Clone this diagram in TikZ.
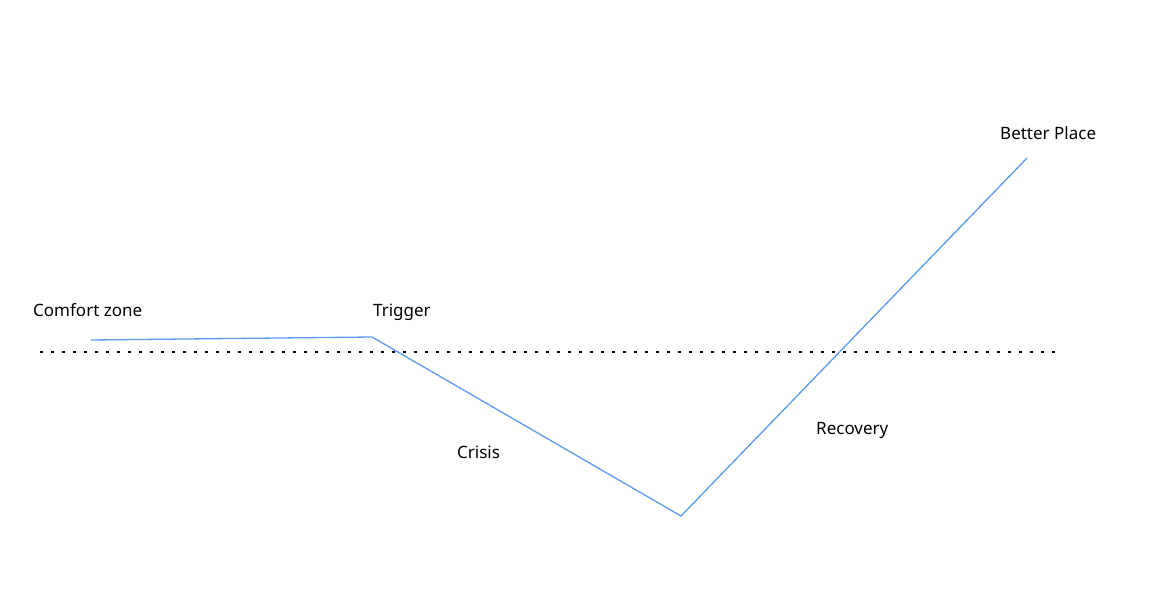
\documentclass[tikz,border=0pt]{standalone}
\usepackage{fontspec}
\setmainfont{Noto Sans}
\usetikzlibrary{positioning}
\definecolor{curveBlue}{HTML}{5B9BEF}

\begin{document}
\begin{tikzpicture}[x=1pt, y=-1pt,
    stagelabel/.style={anchor=base west, inner sep=0pt, font=\fontsize{17}{20}\selectfont},
    baseline dots/.style={line width=1.4pt, dash pattern=on 2.6pt off 8.4pt},
    curve/.style={draw=curveBlue, line width=1.3pt, line join=miter}]
  \useasboundingbox (0,0) rectangle (1160,608);
  % turning points of the curve
  \coordinate (start) at (91,340);
  \coordinate (trig)  at (372,337);
  \coordinate (low)   at (681,516);
  \coordinate (top)   at (1027,158);
  \coordinate (dl)    at (40,352);
  \coordinate (dr)    at (1060,352);
  \draw[baseline dots] (dl) -- (dr);
  \draw[curve] (start) -- (trig) -- (low) -- (top);
  % labels
  \node[stagelabel] (comfort)  at (33,316)   {Comfort zone};
  \node[stagelabel] (trigger)  at (373,316)  {Trigger};
  \node[stagelabel] (crisis)   at (457,458)  {Crisis};
  \node[stagelabel] (recovery) at (816,434)  {Recovery};
  \node[stagelabel] (better)   at (1000,139) {Better Place};
\end{tikzpicture}
\end{document}
